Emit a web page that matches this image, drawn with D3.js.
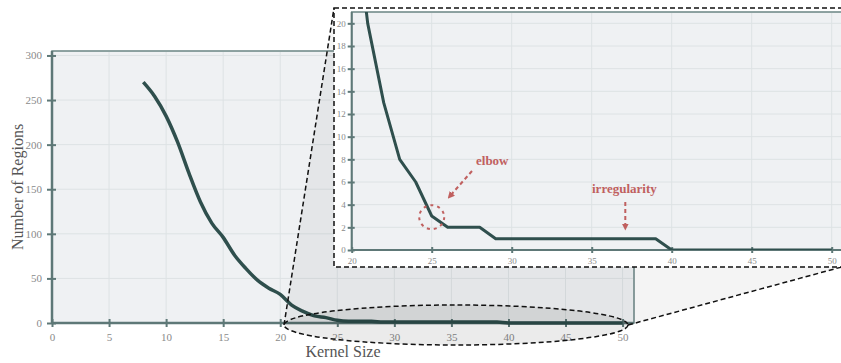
<!DOCTYPE html>
<html>
<head>
<meta charset="utf-8">
<script src="https://cdn.jsdelivr.net/npm/d3@7"></script>
<style>
body { margin: 0; background: #fff; }
svg { display: block; font-family: "Liberation Serif", "DejaVu Serif", serif; }
.grid line { stroke: #dde2e4; stroke-width: 1; }
.axis path { display: none; }
.axis line { stroke: #5e7877; stroke-width: 2; }
.axis text { fill: #8a8a8a; font-family: "Liberation Serif", "DejaVu Serif", serif; }
</style>
</head>
<body>
<svg id="chart" width="841" height="363"></svg>
<script>
// kernel size vs number of regions
var kernelSize = [8, 9, 10, 11, 12, 13, 14, 15, 16, 17, 18, 19, 20, 21, 22, 23, 24, 25, 26, 27, 28, 29, 30, 31, 32, 33, 34, 35, 36, 37, 38, 39, 40, 41, 42, 43, 44, 45, 46, 47, 48, 49, 50];
var numRegions = [270, 254, 232, 203, 168, 136, 112, 96, 76, 61, 48, 39, 32, 20, 13, 8, 6, 3, 2, 2, 2, 1, 1, 1, 1, 1, 1, 1, 1, 1, 1, 1, 0, 0, 0, 0, 0, 0, 0, 0, 0, 0, 0];
var mainXTicks = [0, 5, 10, 15, 20, 25, 30, 35, 40, 45, 50];
var mainYTicks = [0, 50, 100, 150, 200, 250, 300];
var zoomXTicks = [20, 25, 30, 35, 40, 45, 50];
var zoomYTicks = [0, 2, 4, 6, 8, 10, 12, 14, 16, 18, 20];

var dataset = kernelSize.map(function(k, i){ return {k: k, n: numRegions[i]}; });

var svg = d3.select("#chart");
var lineColor = "#2f4f4d";
var noteColor = "#c0605f";

// ---------- main chart ----------
var xScale = d3.scaleLinear().domain([0, 51]).range([52, 634]);
var yScale = d3.scaleLinear().domain([0, 305]).range([323, 51]);

svg.append("rect")
	.attr("x", 52).attr("y", 51)
	.attr("width", 582).attr("height", 272)
	.attr("fill", "#eff1f3")
	.attr("stroke", "#6b8584").attr("stroke-width", 1.5);

var grid = svg.append("g").attr("class", "grid");
grid.selectAll("line.v").data(mainXTicks).enter().append("line")
	.attr("x1", function(d){ return xScale(d); }).attr("x2", function(d){ return xScale(d); })
	.attr("y1", 52).attr("y2", 322);
grid.selectAll("line.h").data(mainYTicks).enter().append("line")
	.attr("x1", 53).attr("x2", 633)
	.attr("y1", function(d){ return yScale(d); }).attr("y2", function(d){ return yScale(d); });

svg.append("line").attr("x1", 52).attr("x2", 52).attr("y1", 51).attr("y2", 323)
	.attr("stroke", "#5e7877").attr("stroke-width", 2.5);
svg.append("line").attr("x1", 52).attr("x2", 634).attr("y1", 323).attr("y2", 323)
	.attr("stroke", "#5e7877").attr("stroke-width", 2.5);

var xAxis = svg.append("g").attr("class", "axis")
	.attr("transform", "translate(0,323)")
	.call(d3.axisBottom(xScale).tickValues(mainXTicks).tickSize(4).tickPadding(6));
xAxis.attr("font-family", null);
xAxis.selectAll(".tick line").attr("y1", -4).attr("y2", 4);
xAxis.selectAll("text").style("font-size", "11px");

var yAxis = svg.append("g").attr("class", "axis")
	.attr("transform", "translate(52,0)")
	.call(d3.axisLeft(yScale).tickValues(mainYTicks).tickSize(4).tickPadding(6));
yAxis.attr("font-family", null);
yAxis.selectAll(".tick line").attr("x1", -5).attr("x2", 4);
yAxis.selectAll("text").style("font-size", "11px");

var mainLine = d3.line()
	.x(function(d){ return xScale(d.k); })
	.y(function(d){ return yScale(d.n); })
	.curve(d3.curveMonotoneX);

svg.append("path")
	.datum(dataset)
	.attr("d", mainLine)
	.attr("fill", "none")
	.attr("stroke", lineColor)
	.attr("stroke-width", 3.5)
	.attr("stroke-linejoin", "round");

svg.append("text")
	.attr("transform", "translate(23,187) rotate(-90)")
	.attr("text-anchor", "middle")
	.style("font-size", "16px").attr("fill", "#555")
	.text("Number of Regions");

svg.append("text")
	.attr("x", 343).attr("y", 357)
	.attr("text-anchor", "middle")
	.style("font-size", "16px").attr("fill", "#555")
	.text("Kernel Size");

// ---------- zoom funnel ----------
var ex = 456, ey = 325, erx = 172, ery = 20;
var boxL = 334, boxT = 8, boxB = 267, boxR = 860;

svg.append("path")
	.attr("d", "M" + (ex - erx) + "," + ey + " L" + boxL + "," + boxT + " L" + boxR + "," + boxT +
		" L" + boxR + "," + (boxB - 5) + " L" + (ex + erx) + "," + ey + " Z")
	.attr("fill", "rgba(0,0,0,0.045)");

svg.append("ellipse")
	.attr("cx", ex).attr("cy", ey).attr("rx", erx).attr("ry", ery)
	.attr("fill", "rgba(0,0,0,0.08)")
	.attr("stroke", "#111").attr("stroke-width", 1.5)
	.attr("stroke-dasharray", "5,3");

svg.append("line")
	.attr("x1", ex - erx).attr("y1", ey).attr("x2", boxL).attr("y2", boxT)
	.attr("stroke", "#111").attr("stroke-width", 1.5).attr("stroke-dasharray", "5,3");
svg.append("line")
	.attr("x1", ex + erx).attr("y1", ey).attr("x2", boxR).attr("y2", boxB - 5)
	.attr("stroke", "#111").attr("stroke-width", 1.5).attr("stroke-dasharray", "5,3");

// ---------- inset ----------
svg.append("rect")
	.attr("x", boxL).attr("y", boxT)
	.attr("width", boxR - boxL).attr("height", boxB - boxT)
	.attr("fill", "#fff")
	.attr("stroke", "#111").attr("stroke-width", 1.5)
	.attr("stroke-dasharray", "5,3");

var zx = d3.scaleLinear().domain([20, 51]).range([351.7, 847.7]);
var zy = d3.scaleLinear().domain([0, 21]).range([250, 12]);

svg.append("defs").append("clipPath").attr("id", "zoomClip")
	.append("rect").attr("x", 351.7).attr("y", 12).attr("width", 500).attr("height", 238);

svg.append("rect")
	.attr("x", 351.7).attr("y", 12)
	.attr("width", 500).attr("height", 238)
	.attr("fill", "#eff1f3")
	.attr("stroke", "#6b8584").attr("stroke-width", 1.5);

var zgrid = svg.append("g").attr("class", "grid");
zgrid.selectAll("line.v").data(zoomXTicks).enter().append("line")
	.attr("x1", function(d){ return zx(d); }).attr("x2", function(d){ return zx(d); })
	.attr("y1", 13).attr("y2", 249);
zgrid.selectAll("line.h").data(zoomYTicks).enter().append("line")
	.attr("x1", 352).attr("x2", 850)
	.attr("y1", function(d){ return zy(d); }).attr("y2", function(d){ return zy(d); });

svg.append("line").attr("x1", 351.7).attr("x2", 351.7).attr("y1", 12).attr("y2", 250)
	.attr("stroke", "#5e7877").attr("stroke-width", 2);
svg.append("line").attr("x1", 351.7).attr("x2", 850).attr("y1", 250).attr("y2", 250)
	.attr("stroke", "#5e7877").attr("stroke-width", 2);

var zxAxis = svg.append("g").attr("class", "axis")
	.attr("transform", "translate(0,250)")
	.call(d3.axisBottom(zx).tickValues(zoomXTicks).tickSize(3).tickPadding(5));
zxAxis.attr("font-family", null);
zxAxis.selectAll(".tick line").attr("y1", -3).attr("y2", 3).attr("stroke-width", 1.5);
zxAxis.selectAll("text").style("font-size", "9px");

var zyAxis = svg.append("g").attr("class", "axis")
	.attr("transform", "translate(351.7,0)")
	.call(d3.axisLeft(zy).tickValues(zoomYTicks).tickSize(3).tickPadding(3));
zyAxis.attr("font-family", null);
zyAxis.selectAll(".tick line").attr("x1", -4).attr("x2", 3).attr("stroke-width", 1.5);
zyAxis.selectAll("text").style("font-size", "9px");

var zoomLine = d3.line()
	.x(function(d){ return zx(d.k); })
	.y(function(d){ return zy(d.n); });

svg.append("path")
	.datum(dataset.filter(function(d){ return d.k >= 20; }))
	.attr("clip-path", "url(#zoomClip)")
	.attr("d", zoomLine)
	.attr("fill", "none")
	.attr("stroke", lineColor)
	.attr("stroke-width", 3)
	.attr("stroke-linejoin", "round");

// annotations
var defs = svg.select("defs");
defs.append("marker")
	.attr("id", "arrow")
	.attr("viewBox", "0 0 10 10")
	.attr("refX", 5).attr("refY", 5)
	.attr("markerWidth", 3.5).attr("markerHeight", 3.5)
	.attr("orient", "auto")
	.append("path").attr("d", "M0,0 L10,5 L0,10 z").attr("fill", noteColor);

svg.append("ellipse")
	.attr("cx", zx(25)).attr("cy", zy(2.9)).attr("rx", 12.5).attr("ry", 12)
	.attr("fill", "none").attr("stroke", noteColor).attr("stroke-width", 2)
	.attr("stroke-dasharray", "3,4");

svg.append("line")
	.attr("x1", 472).attr("y1", 171).attr("x2", 450).attr("y2", 196)
	.attr("stroke", noteColor).attr("stroke-width", 2)
	.attr("stroke-dasharray", "4,3")
	.attr("marker-end", "url(#arrow)");

svg.append("text")
	.attr("x", 476).attr("y", 165)
	.style("font-size", "13px").style("font-weight", "bold")
	.attr("fill", noteColor)
	.text("elbow");

svg.append("line")
	.attr("x1", zx(37.1)).attr("y1", 202).attr("x2", zx(37.1)).attr("y2", 227)
	.attr("stroke", noteColor).attr("stroke-width", 2)
	.attr("stroke-dasharray", "4,3")
	.attr("marker-end", "url(#arrow)");

svg.append("text")
	.attr("x", 592).attr("y", 193)
	.style("font-size", "13px").style("font-weight", "bold")
	.attr("fill", noteColor)
	.text("irregularity");
</script>
</body>
</html>
